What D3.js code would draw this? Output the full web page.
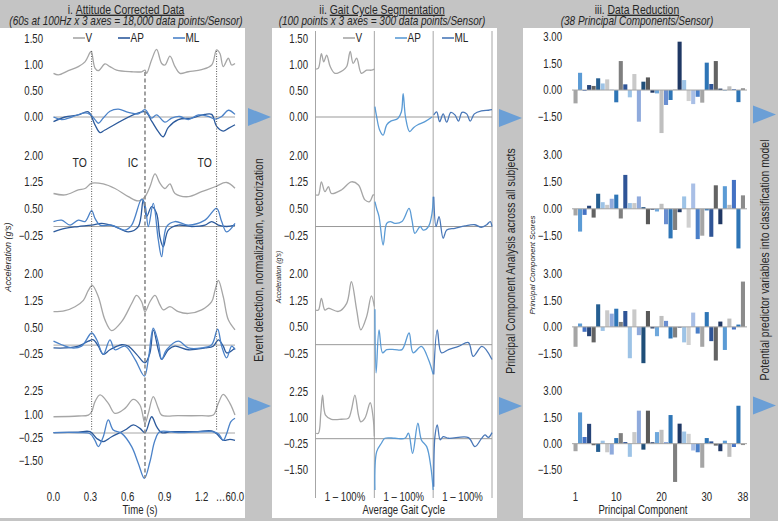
<!DOCTYPE html>
<html><head><meta charset="utf-8">
<script src="https://cdn.jsdelivr.net/npm/d3@7/dist/d3.min.js"></script>
<style>
html,body{margin:0;padding:0;background:#c4c4c4;}
svg{display:block;}
text{font-family:"Liberation Sans", Arial, sans-serif;}
</style></head><body>
<svg id="chart" width="778" height="521"></svg>
<script>
// ---------------- DATA ----------------
const seriesNames = ["V", "AP", "ML"];
const timeTicks = [0.0, 0.3, 0.6, 0.9, 1.2];
const timeEndLabel = "\u202660.0";
const events = [{t: 0.309, label: "TO", kind: "dot"}, {t: 0.741, label: "IC", kind: "dash"}, {t: 1.321, label: "TO", kind: "dot"}];
const p1TickSets = [[1.5, 1.0, 0.5, 0.0], [2.0, 1.25, 0.5, -0.25], [2.0, 1.25, 0.5, -0.25], [2.25, 1.0, -0.25, -1.5]];
const p3Ticks = [3.0, 1.5, 0.0, -1.5];
const segLabels = ["1 \u2013 100%", "1 \u2013 100%", "1 \u2013 100%"];
const pcTickLabels = [1, 10, 20, 30, 38];

// Panel i : attitude corrected data [time (s), g]
const p1s1V = [[0,0.84],[0.039,0.81],[0.12,0.89],[0.201,0.97],[0.255,1.06],[0.296,1.24],[0.306,1.26],[0.336,0.94],[0.363,0.89],[0.417,1.02],[0.457,0.97],[0.511,0.90],[0.633,0.87],[0.714,0.87],[0.741,0.90],[0.754,0.84],[0.795,1.10],[0.835,1.30],[0.876,1.03],[0.903,1.00],[0.943,1.17],[0.984,0.97],[1.024,0.84],[1.092,0.87],[1.200,0.91],[1.281,1.00],[1.321,1.29],[1.348,1.22],[1.375,0.97],[1.416,1.13],[1.443,1.00],[1.47,1.03]];
const p1s1AP = [[0,-0.09],[0.093,0.0],[0.201,0.04],[0.282,0.10],[0.336,-0.15],[0.377,-0.30],[0.417,-0.25],[0.741,0.10],[0.795,-0.08],[0.849,-0.28],[0.889,-0.38],[0.930,-0.20],[1.011,-0.05],[1.119,-0.02],[1.227,0.05],[1.281,0.05],[1.321,-0.18],[1.375,-0.27],[1.416,-0.22],[1.47,-0.15]];
const p1s1ML = [[0,0.0],[0.066,-0.05],[0.147,0.0],[0.255,0.08],[0.296,0.05],[0.336,-0.05],[0.363,-0.12],[0.403,-0.02],[0.457,0.11],[0.525,0.15],[0.606,0.09],[0.687,0.06],[0.741,0.14],[0.795,-0.02],[0.835,0.04],[0.903,-0.10],[0.957,-0.02],[1.024,0.01],[1.092,-0.05],[1.173,0.04],[1.254,0.01],[1.308,-0.04],[1.362,0.01],[1.416,0.13],[1.47,0.05]];
const p1s2V = [[0,0.93],[0.093,0.89],[0.201,1.03],[0.255,1.07],[0.309,1.22],[0.403,1.20],[0.498,1.07],[0.606,0.84],[0.687,0.72],[0.741,0.84],[0.781,1.12],[0.822,1.48],[0.862,1.22],[0.903,1.07],[0.943,1.20],[0.984,0.93],[1.092,0.84],[1.200,0.98],[1.308,1.12],[1.402,1.24],[1.47,1.08]];
const p1s2AP = [[0,-0.15],[0.093,-0.05],[0.201,0.0],[0.309,0.04],[0.390,0.09],[0.498,0.0],[0.606,-0.15],[0.687,0.0],[0.727,0.75],[0.754,0.28],[0.795,0.56],[0.835,0.37],[0.862,-0.30],[0.889,-0.57],[0.930,-0.10],[1.011,0.04],[1.119,0.0],[1.227,0.04],[1.281,0.14],[1.335,0.04],[1.402,0.0],[1.47,0.04]];
const p1s2ML = [[0,0.14],[0.066,0.18],[0.134,0.04],[0.201,0.18],[0.255,0.14],[0.309,0.45],[0.336,0.23],[0.377,0.04],[0.471,0.04],[0.579,-0.10],[0.633,0.04],[0.714,0.77],[0.741,0.61],[0.768,0.0],[0.808,0.65],[0.849,-0.38],[0.876,-0.85],[0.916,0.0],[0.984,0.14],[1.092,0.04],[1.227,0.18],[1.321,0.51],[1.362,0.14],[1.402,-0.15],[1.47,0.09]];
const p1s3V = [[0,0.94],[0.093,0.97],[0.174,1.08],[0.242,1.26],[0.282,1.54],[0.314,1.68],[0.363,1.36],[0.417,0.71],[0.471,0.41],[0.552,0.66],[0.633,1.17],[0.673,1.40],[0.714,1.22],[0.741,0.94],[0.781,1.22],[0.822,1.40],[0.862,1.13],[0.889,0.99],[0.943,1.08],[1.011,0.94],[1.092,0.89],[1.200,0.99],[1.281,1.22],[1.308,1.54],[1.335,1.82],[1.375,1.36],[1.416,0.71],[1.47,0.43]];
const p1s3AP = [[0,-0.08],[0.093,-0.08],[0.201,-0.03],[0.282,0.11],[0.323,0.15],[0.363,-0.03],[0.403,-0.26],[0.457,-0.13],[0.552,0.01],[0.606,-0.03],[0.673,-0.26],[0.741,-0.50],[0.781,-0.22],[0.808,0.43],[0.849,-0.13],[0.876,-0.40],[0.930,-0.13],[0.984,-0.03],[1.092,-0.13],[1.227,-0.08],[1.294,-0.03],[1.335,0.15],[1.375,-0.03],[1.402,-0.22],[1.47,-0.08]];
const p1s3ML = [[0,0.11],[0.066,0.01],[0.147,-0.08],[0.228,-0.03],[0.309,0.34],[0.350,0.15],[0.403,-0.26],[0.457,0.15],[0.498,-0.13],[0.579,-0.03],[0.660,-0.40],[0.736,-0.87],[0.768,-0.40],[0.808,0.48],[0.849,0.06],[0.876,-0.40],[0.916,-0.13],[1.011,0.11],[1.092,-0.08],[1.200,-0.08],[1.281,0.01],[1.329,0.45],[1.362,-0.03],[1.402,-0.36],[1.443,-0.03],[1.47,-0.13]];
const p1s4V = [[0,0.87],[0.201,0.91],[0.282,0.96],[0.309,1.14],[0.336,1.68],[0.377,2.04],[0.444,1.59],[0.498,1.05],[0.579,1.32],[0.646,1.80],[0.700,1.50],[0.741,0.52],[0.768,1.05],[0.808,1.95],[0.849,1.32],[0.876,0.96],[1.011,0.93],[1.200,0.93],[1.294,0.96],[1.335,1.59],[1.375,2.07],[1.429,1.59],[1.47,0.96]];
const p1s4AP = [[0,0.02],[0.201,0.05],[0.296,0.07],[0.350,-0.29],[0.403,-0.46],[0.471,-0.20],[0.579,0.16],[0.646,0.43],[0.700,0.25],[0.741,0.02],[0.795,0.87],[0.835,0.34],[0.876,0.02],[0.957,0.07],[1.146,0.07],[1.281,0.11],[1.321,-0.04],[1.375,-0.39],[1.429,-0.34],[1.47,-0.39]];
const p1s4ML = [[0,0.02],[0.201,0.02],[0.296,-0.04],[0.336,-0.39],[0.363,-0.73],[0.403,-0.20],[0.444,0.70],[0.484,0.16],[0.552,-0.02],[0.633,-0.73],[0.687,-1.63],[0.736,-2.43],[0.781,-1.54],[0.822,-0.39],[0.862,0.07],[1.011,0.02],[1.281,0.07],[1.335,-0.04],[1.375,-0.39],[1.402,-0.04],[1.437,0.61],[1.47,0.79]];

// Panel ii : gait cycle segmentation [point index 1-300, g]
const p2s1V = [[1,0.92],[5,0.94],[10,1.22],[14,1.06],[19,1.19],[25,0.97],[33,0.84],[47,0.90],[53,0.97],[59,1.26],[64,1.03],[70,1.13],[78,0.84],[87,0.90],[95,0.90],[100,0.92]];
const p2s1AP = [[101,0.20],[104,0.0],[109,-0.25],[115,-0.35],[121,-0.15],[128,-0.08],[140,-0.03],[146,0.10],[149,0.45],[153,0.0],[160,-0.28],[167,-0.20],[174,-0.15],[186,-0.09],[198,0.0]];
const p2s1ML = [[201,0.04],[206,0.10],[211,-0.09],[217,0.06],[223,-0.10],[230,0.09],[237,0.04],[243,-0.08],[249,0.09],[257,0.06],[263,-0.08],[270,0.06],[282,0.12],[294,0.13],[300,0.14]];
const p2s2V = [[1,0.89],[5,0.89],[10,1.26],[16,0.98],[22,1.12],[27,0.93],[44,1.03],[61,1.26],[73,1.17],[84,0.75],[92,0.70],[98,0.89],[100,0.89]];
const p2s2AP = [[101,0.70],[104,0.50],[108,0.28],[115,-0.52],[121,0.09],[127,0.14],[135,0.09],[147,0.14],[159,0.51],[164,0.18],[169,-0.19],[178,0.0],[183,-0.10],[192,0.0],[198,0.37],[200,0.84]];
const p2s2ML = [[201,0.84],[205,0.0],[210,0.28],[217,-0.33],[223,-0.10],[237,-0.05],[254,0.02],[271,0.05],[282,-0.02],[291,0.05],[297,0.14],[300,0.0]];
const p2s3V = [[1,0.98],[5,0.98],[10,1.31],[16,0.98],[22,1.03],[39,0.94],[53,1.17],[61,1.78],[70,0.98],[77,0.42],[87,0.80],[95,1.38],[100,1.08]];
const p2s3AP = [[101,1.0],[103,-0.80],[108,0.42],[114,-0.23],[121,-0.14],[135,-0.14],[147,-0.14],[159,0.33],[166,-0.23],[180,-0.05],[192,-0.42],[200,-0.84]];
const p2s3ML = [[201,-0.84],[207,0.42],[214,-0.23],[226,-0.14],[243,-0.05],[260,0.06],[268,-0.33],[283,-0.05],[300,-0.42]];
const p2s4V = [[1,0.26],[5,0.26],[9,1.21],[12,2.09],[17,1.13],[27,0.93],[44,0.93],[56,0.98],[61,1.37],[67,2.09],[73,1.13],[77,0.81],[84,0.98],[93,1.72],[98,1.0],[100,0.1]];
const p2s4AP = [[101,-2.46],[104,-0.62],[112,-0.22],[118,0.02],[135,0.02],[152,0.02],[158,0.26],[165,-0.70],[174,0.74],[180,-0.06],[189,-0.38],[196,-1.34],[200,-2.46]];
const p2s4ML = [[201,-2.30],[203,0.10],[207,0.66],[212,-0.06],[217,0.10],[226,0.02],[260,0.05],[271,-0.38],[282,0.0],[288,0.18],[294,0.06],[300,0.29]];

// Panel iii : principal component scores (38 per sensor)
const components = d3.range(1, 39);
const pcS1 = [-0.75,0.97,-0.05,0.28,0.23,0.66,0.37,0.60,0.02,-0.69,1.63,0.32,-0.41,0.90,-1.78,0.47,0.71,-0.15,-0.19,-2.42,-0.84,-0.56,0.02,2.72,0.56,-0.62,-0.79,-0.38,-0.71,1.54,0.34,1.63,0.08,-0.03,0.21,0.05,-0.68,0.10];
const pcS2 = [-0.37,-1.27,-0.34,0.17,-0.49,0.84,0.37,0.22,0.56,0.79,-0.54,1.89,0.32,0.32,0.69,0.09,-0.86,-0.05,-0.15,0.28,-0.86,-1.65,-1.18,-0.19,0.69,-1.05,1.41,-1.69,-1.50,-0.09,-1.56,1.31,-0.86,1.26,0.22,1.61,-2.21,0.75];
const pcS3 = [-1.13,0.19,-0.28,-0.53,-0.88,1.28,-0.23,0.94,0.75,1.03,0.28,0.90,-1.78,0.99,-0.47,-2.06,0.90,-0.09,-0.53,0.62,0.34,-0.66,-0.60,-0.04,-0.88,-1.03,0.81,-0.38,-1.13,0.84,-0.81,-1.91,0.30,-1.31,0.47,-0.15,0.13,2.57];
const pcS4 = [-0.43,1.78,0.38,1.13,-0.09,-0.47,0.17,-0.49,-0.62,0.32,0.60,0.09,-0.75,0.66,1.88,-0.34,1.88,0.08,0.66,0.79,0.08,1.63,-2.18,1.14,0.69,0.56,-0.39,-0.49,-1.37,0.32,0.13,-0.11,-0.43,0.17,-0.75,-0.19,2.16,-0.08];
const barColors = ["#a5a5a5","#5b9bd5","#4472c4","#264478","#636363","#255e91","#9dc3e6","#c9c9c9","#8faadc","#2e75b6","#7f7f7f","#2f5597","#9dc3e6","#c9c9c9","#8faadc","#1f4e79","#595959","#203864","#6fa8dc","#bfbfbf","#698ed0","#2e75b6","#7f7f7f","#1f3864","#9dc3e6","#d0d0d0","#a9bfe6","#4a7fc8","#a5a5a5","#2e75b6","#2f5597","#636363","#203864","#5b9bd5","#bfbfbf","#4472c4","#2e75b6","#8c8c8c"];

// ---------------- DRAWING ----------------
const svg = d3.select("#chart");
const TXT = "#262626";
const SX = 0.8; // condensed lettering, as in the reference

svg.append("rect").attr("width", 778).attr("height", 521).attr("fill", "#c4c4c4");
[[0, 28, 245, 490], [272, 28, 225, 490], [523, 28, 227, 490]].forEach(r =>
  svg.append("rect").attr("x", r[0]).attr("y", r[1]).attr("width", r[2]).attr("height", r[3]).attr("fill", "#ffffff"));

function T(x, y, s, o = {}) {
  const sq = o.sq == null ? SX : o.sq;
  const tr = o.rot ? `translate(${x},${y}) rotate(-90) scale(${sq},1)` : `translate(${x},${y}) scale(${sq},1)`;
  const t = svg.append("text").attr("transform", tr)
    .attr("text-anchor", o.anchor || "middle").attr("dy", o.dy == null ? "0.35em" : o.dy)
    .style("font-size", (o.size || 12) + "px").attr("fill", o.fill || TXT);
  if (o.italic) t.style("font-style", "italic");
  if (s != null) t.text(s);
  return t;
}

// titles
function title(cx, pre, und, sub) {
  const t = T(cx, 9, null, {size: 13});
  t.append("tspan").text(pre);
  t.append("tspan").attr("text-decoration", "underline").text(und);
  T(cx, 21, sub, {size: 12.5, italic: true});
}
title(126, "i. ", "Attitude Corrected Data", "(60s at 100Hz x 3 axes = 18,000 data points/Sensor)");
title(382, "ii. ", "Gait Cycle Segmentation", "(100 points x 3 axes = 300 data points/Sensor)");
title(637, "iii. ", "Data Reduction", "(38 Principal Components/Sensor)");

// gray side bars: rotated texts + arrows
T(258, 260, "Event detection, normalization, vectorization", {rot: true, size: 13});
T(510, 261, "Principal Component Analysis across all subjects", {rot: true, size: 13});
T(764, 260, "Potential predictor variables into classification model", {rot: true, size: 13});
const ARROW = "#6b9fd6";
[[248, 117], [248, 406], [499, 118], [499, 406], [753, 114.5], [753, 405.5]].forEach(a => {
  svg.append("path").attr("d", `M${a[0]},${a[1] - 9}L${a[0] + 23},${a[1]}L${a[0]},${a[1] + 9}Z`).attr("fill", ARROW);
});

const curve = d3.curveCatmullRom.alpha(0.5);
const GRID = "#a6a6a6";

// ---------- Panel i ----------
const x1 = d3.scaleLinear().domain([0, 1.47]).range([53.5, 235]);
const p1Ranges = [[0, 1.5, 117, 39], [-0.25, 2.0, 235.4, 155.5], [-0.25, 2.0, 354, 274], [-1.5, 2.25, 461, 391]];
const p1Data = [[p1s1V, p1s1AP, p1s1ML], [p1s2V, p1s2AP, p1s2ML], [p1s3V, p1s3AP, p1s3ML], [p1s4V, p1s4AP, p1s4ML]];
const p1Colors = ["#a6a6a6", "#2c5a9c", "#4b82c8"];
p1Ranges.forEach((r, i) => {
  const y = d3.scaleLinear().domain([r[0], r[1]]).range([r[2], r[3]]);
  svg.append("line").attr("x1", x1.range()[0]).attr("x2", x1.range()[1]).attr("y1", y(0)).attr("y2", y(0))
    .attr("stroke", GRID).attr("stroke-width", 1);
  p1TickSets[i].forEach(v => T(43, y(v), d3.format(".2f")(v), {anchor: "end", size: 12}));
  const line = d3.line().x(d => x1(d[0])).y(d => y(d[1])).curve(curve);
  p1Data[i].forEach((s, k) => svg.append("path").attr("d", line(s)).attr("fill", "none")
    .attr("stroke", p1Colors[k]).attr("stroke-width", 1.3));
});
// event markers
events.forEach(e => {
  const dash = e.kind === "dash";
  svg.append("line").attr("x1", x1(e.t)).attr("x2", x1(e.t))
    .attr("y1", dash ? 72 : 51).attr("y2", dash ? 478 : 430)
    .attr("stroke", dash ? "#8a8a8a" : "#555").attr("stroke-width", dash ? 1.6 : 1)
    .attr("stroke-dasharray", dash ? "4,2.5" : "1,1.5");
  T(x1(e.t) - 12, 162, e.label, {size: 13});
});
timeTicks.forEach(t => T(x1(t), 497, d3.format(".1f")(t), {size: 12}));
T(230, 497, timeEndLabel, {size: 12});
T(140, 510, "Time (s)", {size: 12});
T(8, 257, "Acceleration (g's)", {rot: true, size: 9, italic: true, sq: 1});
// legend
function legend(items, colors, y) {
  items.forEach((xp, k) => {
    svg.append("line").attr("x1", xp).attr("x2", xp + 12).attr("y1", y).attr("y2", y)
      .attr("stroke", colors[k]).attr("stroke-width", 1.6);
    T(xp + 12.5, y, seriesNames[k], {anchor: "start", size: 12.5});
  });
}
legend([73, 118, 173], p1Colors, 38);

// ---------- Panel ii ----------
const x2 = d3.scaleLinear().domain([0, 300]).range([315.5, 492]);
const p2Ranges = [[0, 1.5, 117, 39], [-0.25, 2.0, 235.4, 155.5], [-0.25, 2.0, 353.5, 274], [-1.5, 2.25, 470, 391.7]];
const p2Data = [[p2s1V, p2s1AP, p2s1ML], [p2s2V, p2s2AP, p2s2ML], [p2s3V, p2s3AP, p2s3ML], [p2s4V, p2s4AP, p2s4ML]];
const p2Colors = ["#a6a6a6", "#5b9bd5", "#4a78b8"];
[0, 100, 200, 300].forEach(v => svg.append("line").attr("x1", x2(v)).attr("x2", x2(v)).attr("y1", 31).attr("y2", 498)
  .attr("stroke", GRID).attr("stroke-width", 1));
p2Ranges.forEach((r, i) => {
  const y = d3.scaleLinear().domain([r[0], r[1]]).range([r[2], r[3]]);
  svg.append("line").attr("x1", x2(0)).attr("x2", x2(300)).attr("y1", y(0)).attr("y2", y(0))
    .attr("stroke", "#999").attr("stroke-width", 1);
  p1TickSets[i].forEach(v => T(308, y(v), d3.format(".2f")(v), {anchor: "end", size: 12}));
  const line = d3.line().x(d => x2(d[0])).y(d => y(d[1])).curve(curve);
  p2Data[i].forEach((s, k) => svg.append("path").attr("d", line(s)).attr("fill", "none")
    .attr("stroke", p2Colors[k]).attr("stroke-width", 1.3));
});
segLabels.forEach((s, k) => T(x2(k * 100 + 50), 497, s, {size: 12}));
T(x2(150), 510, "Average Gait Cycle", {size: 12});
T(279, 277, "Acceleration (g's)", {rot: true, size: 6.8, italic: true, sq: 1});
legend([343, 395, 442], p2Colors, 38);

// ---------- Panel iii ----------
const xb = d3.scaleBand().domain(components).range([573.5, 745]).paddingInner(0.1);
const p3Ranges = [[116.7, 36.7], [235.7, 155], [353.3, 274], [470, 391]];
const pcData = [pcS1, pcS2, pcS3, pcS4];
p3Ranges.forEach((r, i) => {
  const y = d3.scaleLinear().domain([-1.5, 3.0]).range(r);
  p3Ticks.forEach(v => T(562, y(v), d3.format(".2f")(v), {anchor: "end", size: 12}));
  svg.append("g").selectAll("rect").data(pcData[i]).join("rect")
    .attr("x", (d, j) => xb(components[j])).attr("width", xb.bandwidth())
    .attr("y", d => y(Math.max(0, d))).attr("height", d => Math.abs(y(d) - y(0)))
    .attr("fill", (d, j) => barColors[j]);
  svg.append("line").attr("x1", 572).attr("x2", 747).attr("y1", y(0)).attr("y2", y(0))
    .attr("stroke", GRID).attr("stroke-width", 1);
});
pcTickLabels.forEach(c => T(xb(c) + xb.bandwidth() / 2, 497, String(c), {size: 12}));
T(643, 510, "Principal Component", {size: 12});
T(532, 265, "Principal Component Scores", {rot: true, size: 7.8, italic: true, sq: 1});
</script>
</body></html>
